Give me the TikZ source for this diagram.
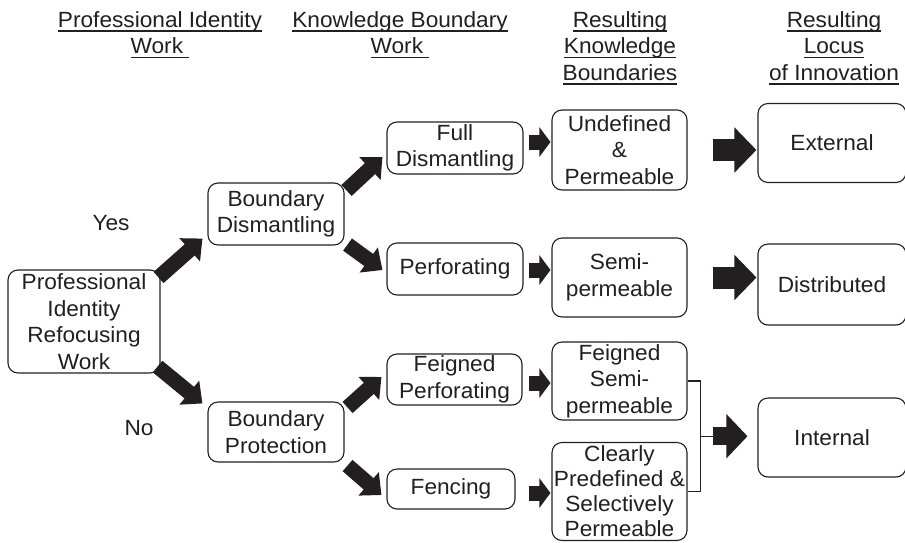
\documentclass[tikz,border=0pt]{standalone}
\usepackage{fontspec}
\setmainfont[FakeStretch=1.03]{Liberation Sans}
\usetikzlibrary{arrows.meta,calc}
\definecolor{ink}{HTML}{231F20}
\newcommand\hul[1]{\setbox0\hbox{#1}\rlap{\color{ink}\rule[-4.8pt]{\wd0}{1.5pt}}\box0}
\begin{document}
\begin{tikzpicture}[x=1pt,y=-1pt,
  box/.style={draw=ink,line width=1.1pt,rounded corners=10pt,inner sep=0pt,align=center,text=ink,font=\fontsize{22}{26.5}\selectfont},
  sz/.style 2 args={minimum width=#1pt,minimum height=#2pt},
  hdr/.style={anchor=north,inner sep=0pt,align=center,text=ink,font=\fontsize{22}{26.5}\selectfont},
  lbl/.style={inner sep=0pt,text=ink,font=\fontsize{22}{26}\selectfont},
  darr/.style={draw=ink,line width=15pt,-{Triangle[length=17pt,width=30pt]}},
  sarr/.style={draw=ink,line width=15pt,-{Triangle[length=11pt,width=29pt]}},
  barr/.style={draw=ink,line width=22pt,-{Triangle[length=22pt,width=44pt]}},
  iarr/.style={draw=ink,line width=18pt,-{Triangle[length=21pt,width=43pt]}},
  brk/.style={draw=ink,line width=1.4pt}]
\useasboundingbox[fill=white] (0,0) rectangle (905,542);

% headers
\node[hdr] (h1) at (160,11) {\hul{Professional Identity}\\\hul{Work\ }};
\node[hdr] (h2) at (400,11) {\hul{Knowledge Boundary}\\\hul{Work\ }};
\node[hdr] (h3) at (620,11) {\hul{Resulting}\\\hul{Knowledge}\\\hul{Boundaries}};
\node[hdr] (h4) at (834,11) {\hul{Resulting}\\\hul{Locus}\\\hul{of Innovation}};

% labels
\node[lbl] (yes) at (111,223) {Yes};
\node[lbl] (no) at (139,428) {No};

% boxes
\node[box,sz={152}{103}] (pirw) at (84,321.5) {Professional\\Identity\\Refocusing\\Work};
\node[box,sz={136}{62}] (bd) at (276,214) {Boundary\\Dismantling};
\node[box,sz={136}{60}] (bp) at (276,432) {Boundary\\Protection};
\node[box,sz={136}{52}] (fd) at (455,148) {Full\\Dismantling};
\node[box,sz={136}{52}] (perf) at (455,269) {Perforating};
\node[box,sz={135}{51}] (fp) at (454.5,379.5) {Feigned\\Perforating};
\node[box,sz={128}{40}] (fen) at (451,489) {Fencing};
\node[box,sz={135}{80}] (up) at (619.5,150) {Undefined\\\&\\Permeable};
\node[box,sz={135}{79}] (semi) at (619.5,277.5) {Semi-\\permeable};
\node[box,sz={135}{78}] (fsp) at (619.5,381) {Feigned\\Semi-\\permeable};
\node[box,sz={135}{98},font=\fontsize{22}{25}\selectfont] (cp) at (619.5,491.5) {Clearly\\Predefined \&\\Selectively\\Permeable};
\node[box,sz={148}{79}] (ext) at (832,143) {External};
\node[box,sz={148}{81}] (dist) at (832,284.5) {Distributed};
\node[box,sz={148}{79}] (int) at (832,437.5) {Internal};

% diagonal arrows
\draw[darr] ([xshift=-2pt,yshift=-8pt]pirw.north east) -- ([xshift=-5pt,yshift=7pt]bd.south west);
\draw[darr] ([xshift=-3pt,yshift=7pt]pirw.south east) -- ([xshift=-5pt,yshift=-2pt]bp.north west);
\draw[darr] ([xshift=2pt,yshift=-8pt]bd.north east) -- ([xshift=-4pt,yshift=-9pt]fd.west);
\draw[darr] ([xshift=3pt,yshift=1pt]bd.south east) -- ([xshift=-4pt,yshift=-1pt]perf.west);
\draw[darr] ([xshift=3pt,yshift=-6pt]bp.north east) -- ([xshift=-5pt,yshift=2.5pt]fp.west);
\draw[darr] ([xshift=3pt,yshift=-3pt]bp.south east) -- ([xshift=-5pt,yshift=-6pt]fen.west);

% small arrows
\coordinate (s1) at ([xshift=5pt,yshift=6pt]fd.east);
\draw[sarr,shorten >=1pt] (s1) -- (s1 -| up.west);
\coordinate (s2) at ([xshift=5pt,yshift=-1pt]perf.east);
\draw[sarr,shorten >=1pt] (s2) -- (s2 -| semi.west);
\coordinate (s3) at ([xshift=6pt,yshift=-3.5pt]fp.east);
\draw[sarr,shorten >=1pt] (s3) -- (s3 -| fsp.west);
\coordinate (s4) at ([xshift=13pt,yshift=-4pt]fen.east);
\draw[sarr,shorten >=1pt] (s4) -- (s4 -| cp.west);

% big arrows
\coordinate (b1) at ([xshift=25pt]up.east);
\draw[barr,shorten >=1pt] (b1) -- (b1 -| ext.west);
\coordinate (b2) at ([xshift=25pt]semi.east);
\draw[barr,shorten >=1pt] (b2) -- (b2 -| dist.west);

% bracket
\draw[brk] (fsp.east) -- ++(13,0) |- (cp.east);
\coordinate (bm) at ($(fsp.east)!0.5!(cp.east)+(13,0)$);
\draw[brk] (bm) -- ++(12.5,0) coordinate (bs);
\draw[iarr,shorten >=10pt] ([xshift=-0.5pt]bs) -- (bs -| int.west);
\end{tikzpicture}
\end{document}
